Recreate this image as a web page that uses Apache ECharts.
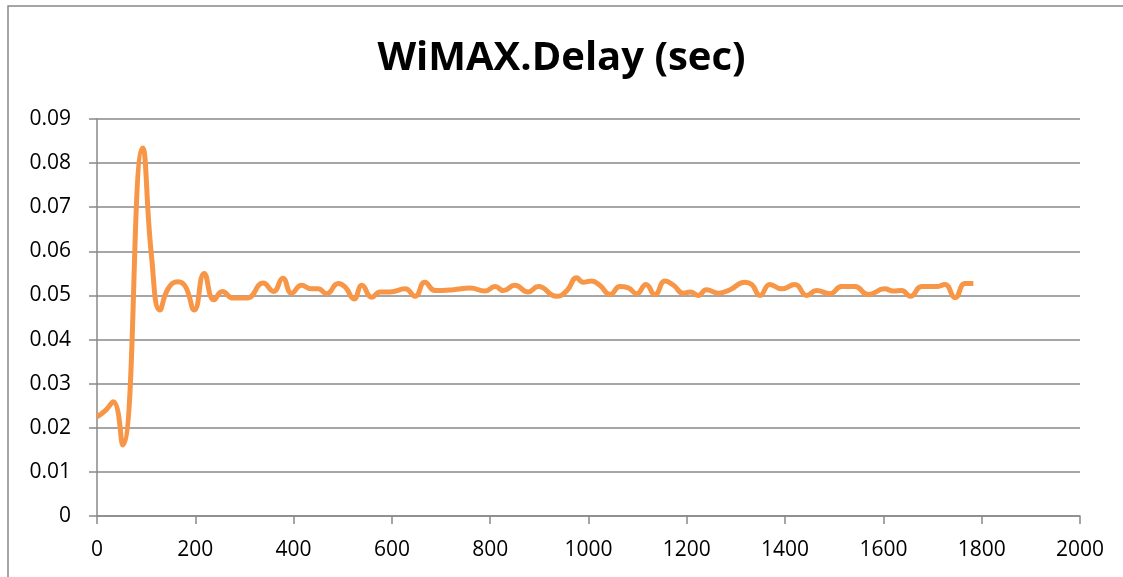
<!DOCTYPE html>
<html>
<head>
<meta charset="utf-8">
<script src="https://cdn.jsdelivr.net/npm/echarts@6/dist/echarts.min.js"></script>
<style>
html,body{margin:0;padding:0;background:#fff;}
#chart{width:1123px;height:577px;}
</style>
</head>
<body>
<div id="chart"></div>
<script>
const titleText = 'WiMAX.Delay (sec)';
const xValues = [0, 18, 33, 52, 93, 111, 128, 145, 165, 180, 198, 218, 238, 255, 277, 305, 338, 359, 378, 396, 416, 436, 450, 467, 491, 505, 523, 539, 559, 576, 596, 627, 647, 667, 688, 725, 759, 789, 810, 827, 850, 877, 898, 935, 956, 976, 989, 1006, 1023, 1044, 1064, 1081, 1098, 1117, 1135, 1156, 1173, 1193, 1207, 1223, 1240, 1264, 1288, 1318, 1332, 1349, 1369, 1393, 1420, 1444, 1464, 1491, 1515, 1542, 1569, 1603, 1620, 1637, 1655, 1678, 1708, 1725, 1746, 1766, 1783];
const delayValues = [0.0225, 0.024, 0.0259, 0.0161, 0.0834, 0.0588, 0.0467, 0.0516, 0.0531, 0.052, 0.0467, 0.055, 0.049, 0.0509, 0.0494, 0.0494, 0.0528, 0.0509, 0.0539, 0.0505, 0.0523, 0.0515, 0.0515, 0.0504, 0.0527, 0.0519, 0.0492, 0.0523, 0.0496, 0.0508, 0.0508, 0.0515, 0.0498, 0.053, 0.0511, 0.0513, 0.0517, 0.051, 0.052, 0.0511, 0.0523, 0.0508, 0.052, 0.0498, 0.0511, 0.054, 0.053, 0.0533, 0.0523, 0.0502, 0.052, 0.0517, 0.0504, 0.0525, 0.0502, 0.0533, 0.0523, 0.0505, 0.0508, 0.05, 0.0513, 0.0505, 0.0513, 0.053, 0.0525, 0.05, 0.0525, 0.0515, 0.0525, 0.05, 0.0511, 0.0504, 0.052, 0.052, 0.0502, 0.0515, 0.051, 0.0511, 0.0498, 0.052, 0.052, 0.0525, 0.0495, 0.0527, 0.0527];
const xMin = 0, xMax = 2000, xStep = 200;
const yMin = 0, yMax = 0.09, yStep = 0.01;

const seriesData = xValues.map((x, i) => [x, delayValues[i]]);
const gridColor = '#898989';
const fontFam = "'Open Sans', sans-serif";

const chart = echarts.init(document.getElementById('chart'), null, {renderer: 'canvas'});
chart.setOption({
  animation: false,
  backgroundColor: '#fff',
  title: {
    text: titleText,
    left: 'center',
    top: 34,
    textStyle: {fontFamily: fontFam, fontWeight: 'bold', fontSize: 40, color: '#000'}
  },
  graphic: [{
    type: 'rect',
    shape: {x: 8, y: 6, width: 1130, height: 600},
    style: {fill: 'none', stroke: '#888', lineWidth: 1.5},
    silent: true
  }],
  grid: {left: 97, right: 43, top: 119, bottom: 61, containLabel: false},
  xAxis: {
    type: 'value',
    min: xMin, max: xMax, interval: xStep,
    axisLine: {show: true, lineStyle: {color: gridColor, width: 1.5}},
    axisTick: {show: true, length: 8, lineStyle: {color: gridColor, width: 1.5}},
    axisLabel: {fontFamily: fontFam, fontSize: 21, color: '#000', margin: 24,
      formatter: v => String(v)},
    splitLine: {show: false}
  },
  yAxis: {
    type: 'value',
    min: yMin, max: yMax, interval: yStep,
    axisLine: {show: true, lineStyle: {color: gridColor, width: 1.5}},
    axisTick: {show: true, length: 8, lineStyle: {color: gridColor, width: 1.5}},
    axisLabel: {fontFamily: fontFam, fontSize: 21, color: '#000', margin: 26,
      formatter: v => String(Math.round(v * 100) / 100)},
    splitLine: {show: true, lineStyle: {color: gridColor, width: 1.5}}
  },
  series: [{
    type: 'line',
    data: seriesData,
    showSymbol: false,
    smooth: 0.5,
    lineStyle: {color: '#F79646', width: 5},
    itemStyle: {color: '#F79646'}
  }]
});
</script>
</body>
</html>
